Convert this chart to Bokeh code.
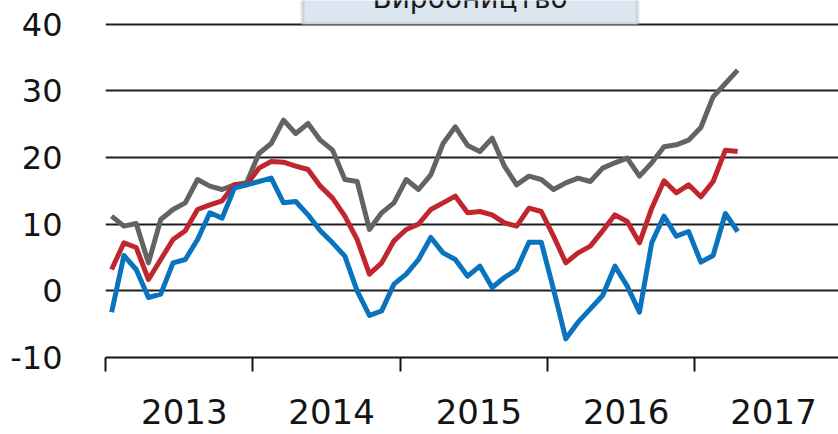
import pandas as pd
from bokeh.plotting import figure
from bokeh.models import Range1d, FixedTicker, BoxAnnotation, Label
from bokeh.embed import file_html
from bokeh.resources import INLINE

# ---- data (monthly, Jan 2013 - Apr 2017) ----
months = pd.period_range("2013-01", periods=52, freq="M")

gray_vals = [11.2, 9.7, 10.1, 4.2, 10.7, 12.2, 13.2, 16.7, 15.7, 15.2, 15.9, 16.2,
             20.6, 22.1, 25.6, 23.6, 25.1, 22.6, 21.1, 16.7, 16.4, 9.2, 11.7, 13.2,
             16.7, 15.2, 17.4, 22.1, 24.6, 21.8, 20.9, 22.9, 18.7, 15.9, 17.2, 16.7,
             15.2, 16.2, 16.9, 16.4, 18.4, 19.2, 19.9, 17.2, 19.2, 21.6, 21.9, 22.6,
             24.5, 29.1, 31.1, 33.1]

red_vals = [3.2, 7.2, 6.5, 1.7, 4.7, 7.7, 9.0, 12.2, 12.9, 13.5, 15.9, 15.9,
            18.4, 19.4, 19.3, 18.7, 18.2, 15.7, 13.9, 11.2, 7.7, 2.5, 4.2, 7.5,
            9.2, 10.0, 12.2, 13.2, 14.2, 11.7, 11.9, 11.4, 10.2, 9.7, 12.4, 11.9,
            8.2, 4.2, 5.7, 6.7, 9.0, 11.4, 10.4, 7.2, 12.4, 16.5, 14.7, 15.9,
            14.1, 16.4, 21.1, 20.9]

blue_vals = [-3.2, 5.3, 3.2, -1.0, -0.5, 4.2, 4.7, 7.7, 11.7, 10.9, 15.4, 15.9,
             16.4, 16.9, 13.2, 13.4, 11.4, 9.0, 7.2, 5.2, 0.0, -3.7, -3.0, 1.0,
             2.5, 4.7, 8.0, 5.7, 4.7, 2.2, 3.7, 0.5, 2.0, 3.2, 7.3, 7.3,
             0.2, -7.2, -4.7, -2.7, -0.7, 3.7, 0.7, -3.2, 7.2, 11.2, 8.2, 8.9,
             4.3, 5.3, 11.6, 8.9]

years = [2013, 2014, 2015, 2016, 2017]
y_ticks = [-10, 0, 10, 20, 30, 40]
title_text = "Виробництво"

x = [m.year + (m.month - 0.5) / 12 for m in months]

FONT = "DejaVu Sans"
DARK = "#141414"

p = figure(width=838, height=434, output_backend="svg", toolbar_location=None,
           x_range=Range1d(2013, 2013 + 733 / 147.3),
           y_range=Range1d(-10, -10 + 357 / 6.667),
           min_border_left=105, min_border_right=0, min_border_top=0,
           min_border_bottom=77)
p.outline_line_color = None
p.background_fill_color = "white"
p.border_fill_color = "white"

# grid
p.xgrid.grid_line_color = None
p.ygrid.ticker = FixedTicker(ticks=y_ticks)
p.ygrid.grid_line_color = "#1e1e1e"
p.ygrid.grid_line_width = 2

# y axis
p.yaxis.ticker = FixedTicker(ticks=y_ticks)
p.yaxis.major_label_overrides = {t: str(t) for t in y_ticks}
p.yaxis.axis_line_color = None
p.yaxis.major_tick_line_color = None
p.yaxis.minor_tick_line_color = None
p.yaxis.major_tick_out = 0
p.yaxis.major_tick_in = 0
p.yaxis.major_label_standoff = 43
p.yaxis.major_label_text_font = FONT
p.yaxis.major_label_text_font_size = "32px"
p.yaxis.major_label_text_color = DARK

# x axis: ticks at year boundaries, labels in the middle of the years
label_pos = [yr + 0.535 for yr in years]
p.xaxis.ticker = FixedTicker(ticks=label_pos, minor_ticks=years + [years[-1] + 1])
p.xaxis.major_label_overrides = {lp: str(yr) for lp, yr in zip(label_pos, years)}
p.xaxis.axis_line_color = DARK
p.xaxis.axis_line_width = 2
p.xaxis.major_tick_line_color = None
p.xaxis.major_tick_out = 0
p.xaxis.major_tick_in = 0
p.xaxis.minor_tick_line_color = DARK
p.xaxis.minor_tick_line_width = 2
p.xaxis.minor_tick_out = 14
p.xaxis.minor_tick_in = 0
p.xaxis.major_label_standoff = 27
p.xaxis.major_label_text_font = FONT
p.xaxis.major_label_text_font_size = "34px"
p.xaxis.major_label_text_color = DARK

# series
p.line(x, gray_vals, line_color="#636363", line_width=5, line_join="round")
p.line(x, red_vals, line_color="#c0262d", line_width=5, line_join="round")
p.line(x, blue_vals, line_color="#0a73bd", line_width=5, line_join="round")

# title box (partly cut off at the top, as in the original)
box_l = 2013 + (302 - 105) / 147.3
box_r = 2013 + (637 - 105) / 147.3
p.add_layout(BoxAnnotation(left=box_l, right=box_r, bottom=40, top=50,
                           fill_color="#dce6f0", fill_alpha=1.0,
                           line_color="#a0a6ad", line_width=4, level="overlay"))
p.add_layout(Label(x=(box_l + box_r) / 2, y=43.85, text=title_text,
                   text_align="center", text_baseline="alphabetic",
                   text_font=FONT, text_font_size="28px", text_color="#1a1a1a",
                   level="overlay"))

open("out.html", "w").write(file_html(p, INLINE))
